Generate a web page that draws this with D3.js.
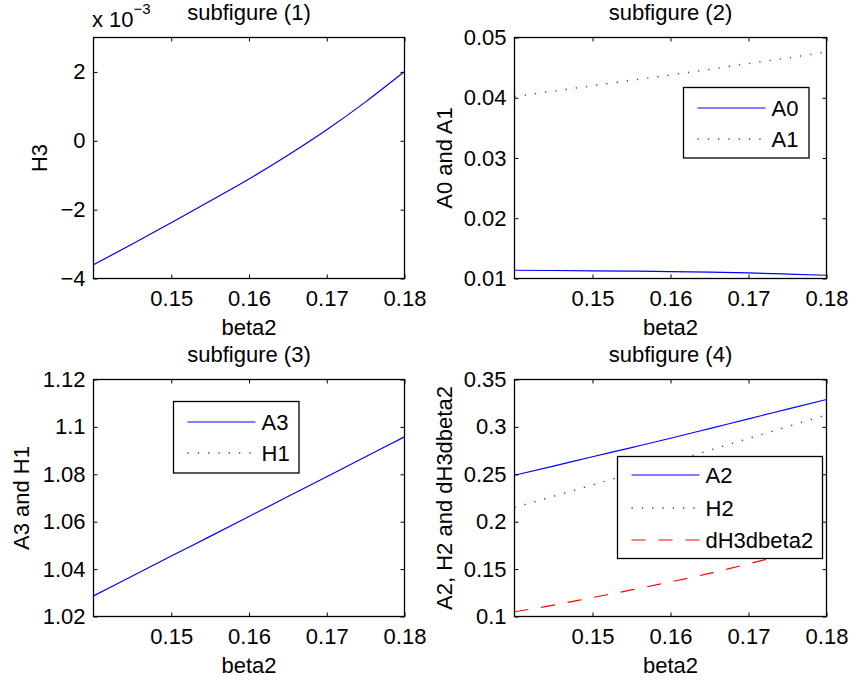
<!DOCTYPE html>
<html>
<head>
<meta charset="utf-8">
<script src="https://cdn.jsdelivr.net/npm/d3@7"></script>
<style>
  html, body { margin: 0; padding: 0; background: #fff; }
  svg { display: block; }
  text { font-family: "Liberation Sans", Arial, Helvetica, sans-serif; fill: #000; }
</style>
</head>
<body>
<svg id="fig" width="851" height="682"></svg>
<script>
// beta2 sample points shared by every panel
const beta2 = [0.140, 0.145, 0.150, 0.155, 0.160, 0.165, 0.170, 0.175, 0.180];
const xTicks = [0.15, 0.16, 0.17, 0.18];

// subfigure (1)
const H3 = [-3.60e-3, -3.00e-3, -2.38e-3, -1.75e-3, -1.11e-3, -0.42e-3, 0.32e-3, 1.13e-3, 2.01e-3];
const yTicks1 = [-0.004, -0.002, 0, 0.002];

// subfigure (2)
const A0 = [0.01137, 0.01133, 0.01128, 0.01122, 0.01115, 0.01105, 0.01092, 0.01074, 0.01054];
const A1 = [0.0402, 0.0411, 0.0420, 0.0429, 0.0438, 0.0447, 0.0457, 0.0466, 0.0476];
const yTicks2 = [0.01, 0.02, 0.03, 0.04, 0.05];

// subfigure (3)
const A3 = [1.0287, 1.0371, 1.0455, 1.0538, 1.0622, 1.0706, 1.0790, 1.0874, 1.0958];
const H1 = [null, null, null, null, null, null, null, null, null];
const yTicks3 = [1.02, 1.04, 1.06, 1.08, 1.10, 1.12];

// subfigure (4)
const A2 = [0.2490, 0.2587, 0.2685, 0.2782, 0.2880, 0.2982, 0.3085, 0.3187, 0.3289];
const H2 = [0.2150, 0.2268, 0.2388, 0.2508, 0.2630, 0.2753, 0.2878, 0.3002, 0.3127];
const dH3dbeta2 = [0.1050, 0.1120, 0.1200, 0.1280, 0.1365, 0.1455, 0.1555, 0.1660, 0.1770];
const yTicks4 = [0.10, 0.15, 0.20, 0.25, 0.30, 0.35];

const svg = d3.select("#fig");
const FONT = 22;
const TICK = 4;

const styles = {
  solidBlue: { color: "#0000ff", dash: null, width: 1.2 },
  dotGreen:  { color: "#008000", dash: "1.3 9", width: 1.4 },
  dashRed:   { color: "#ff0000", dash: "14 13", width: 1.2 }
};

function fmtPlain(v) {
  return d3.format("~g")(+v.toFixed(6)).replace("-", "\u2212");
}

let clipId = 0;
function panel(cfg) {
  const { left, right, top, bottom } = cfg.box;
  const x = d3.scaleLinear().domain([0.14, 0.18]).range([left, right]);
  const y = d3.scaleLinear().domain(cfg.yDomain).range([bottom, top]);
  const g = svg.append("g");

  // data lines, clipped to the axes box
  const id = "clip" + (clipId++);
  svg.append("clipPath").attr("id", id)
    .append("rect").attr("x", left).attr("y", top)
    .attr("width", right - left).attr("height", bottom - top);

  const lines = g.append("g").attr("clip-path", `url(#${id})`);
  cfg.series.forEach(s => {
    const pts = beta2.map((b, i) => [b, s.values[i]]).filter(d => d[1] != null);
    if (!pts.length) return;
    const line = d3.line().x(d => x(d[0])).y(d => y(d[1])).curve(d3.curveMonotoneX);
    lines.append("path")
      .attr("d", line(pts))
      .attr("fill", "none")
      .attr("stroke", s.style.color)
      .attr("stroke-width", s.style.width)
      .attr("stroke-dasharray", s.style.dash);
  });

  // axes: inward ticks on all four sides, labels bottom and left only
  const fmt = cfg.yFormat || fmtPlain;
  const axB = d3.axisBottom(x).tickValues(xTicks).tickSizeInner(-TICK).tickSizeOuter(0)
    .tickFormat(d => d3.format(".2f")(d)).tickPadding(12);
  const axT = d3.axisTop(x).tickValues(xTicks).tickSizeInner(-TICK).tickSizeOuter(0).tickFormat("");
  const axL = d3.axisLeft(y).tickValues(cfg.yTicks).tickSizeInner(-TICK).tickSizeOuter(0)
    .tickFormat(fmt).tickPadding(8);
  const axR = d3.axisRight(y).tickValues(cfg.yTicks).tickSizeInner(-TICK).tickSizeOuter(0).tickFormat("");

  const axes = [
    g.append("g").attr("transform", `translate(0,${bottom})`).call(axB),
    g.append("g").attr("transform", `translate(0,${top})`).call(axT),
    g.append("g").attr("transform", `translate(${left},0)`).call(axL),
    g.append("g").attr("transform", `translate(${right},0)`).call(axR)
  ];
  axes.forEach(a => {
    a.select(".domain").remove();
    a.selectAll(".tick line").attr("stroke", "#000").attr("stroke-width", 1);
    a.selectAll("text").attr("font-size", FONT)
      .attr("font-family", '"Liberation Sans", Arial, sans-serif').attr("fill", "#000");
  });

  g.append("rect").attr("x", left).attr("y", top)
    .attr("width", right - left).attr("height", bottom - top)
    .attr("fill", "none").attr("stroke", "#000").attr("stroke-width", 1.3);

  // title and axis labels
  g.append("text").attr("x", (left + right) / 2).attr("y", top - 18)
    .attr("text-anchor", "middle").attr("font-size", FONT).text(cfg.title);
  g.append("text").attr("x", (left + right) / 2).attr("y", bottom + 56)
    .attr("text-anchor", "middle").attr("font-size", FONT).text("beta2");
  g.append("text")
    .attr("transform", `translate(${cfg.yLabelX},${(top + bottom) / 2}) rotate(-90)`)
    .attr("text-anchor", "middle").attr("font-size", FONT).text(cfg.yLabel);

  // legend box drawn over the lines
  if (cfg.legend) {
    const L = cfg.legend;
    const lg = g.append("g");
    lg.append("rect").attr("x", L.x).attr("y", L.y).attr("width", L.w).attr("height", L.h)
      .attr("fill", "#fff").attr("stroke", "#000").attr("stroke-width", 1.3);
    cfg.series.forEach((s, i) => {
      const ry = Math.round(L.y + L.firstRow + i * L.rowStep);
      lg.append("line").attr("x1", L.x + 14).attr("x2", L.x + 82).attr("y1", ry).attr("y2", ry)
        .attr("stroke", s.style.color)
        .attr("stroke-width", s.style.width)
        .attr("stroke-dasharray", s.style.dash);
      lg.append("text").attr("x", L.x + 88).attr("y", ry).attr("dy", "0.36em")
        .attr("font-size", FONT).text(s.name);
    });
  }
  return { x, y, g };
}

// subfigure (1)
const p1 = panel({
  box: { left: 93.5, right: 404.5, top: 37.5, bottom: 278.5 },
  yDomain: [-0.004, 0.003], yTicks: yTicks1,
  yFormat: d => fmtPlain(d * 1000),
  title: "subfigure (1)", yLabel: "H3", yLabelX: 46.5,
  series: [{ name: "H3", values: H3, style: styles.solidBlue }]
});
// exponent note above the axis
const expo = p1.g.append("text").attr("x", 92).attr("y", 26.5).attr("font-size", FONT);
expo.append("tspan").text("x 10");
expo.append("tspan").attr("font-size", 15).attr("dy", -13).text("\u22123");

// subfigure (2)
panel({
  box: { left: 514.5, right: 826.5, top: 37.5, bottom: 278.5 },
  yDomain: [0.01, 0.05], yTicks: yTicks2,
  title: "subfigure (2)", yLabel: "A0 and A1", yLabelX: 452,
  series: [
    { name: "A0", values: A0, style: styles.solidBlue },
    { name: "A1", values: A1, style: styles.dotGreen }
  ],
  legend: { x: 683.5, y: 87.5, w: 125.5, h: 70.5, firstRow: 20, rowStep: 31 }
});

// subfigure (3)
panel({
  box: { left: 93.5, right: 404.5, top: 379.5, bottom: 616.5 },
  yDomain: [1.02, 1.12], yTicks: yTicks3,
  title: "subfigure (3)", yLabel: "A3 and H1", yLabelX: 28.5,
  series: [
    { name: "A3", values: A3, style: styles.solidBlue },
    { name: "H1", values: H1, style: styles.dotGreen }
  ],
  legend: { x: 173.5, y: 401.5, w: 125.5, h: 71.5, firstRow: 20, rowStep: 31.5 }
});

// subfigure (4)
panel({
  box: { left: 514.5, right: 826.5, top: 379.5, bottom: 616.5 },
  yDomain: [0.10, 0.35], yTicks: yTicks4,
  title: "subfigure (4)", yLabel: "A2, H2 and dH3dbeta2", yLabelX: 452,
  series: [
    { name: "A2", values: A2, style: styles.solidBlue },
    { name: "H2", values: H2, style: styles.dotGreen },
    { name: "dH3dbeta2", values: dH3dbeta2, style: styles.dashRed }
  ],
  legend: { x: 617.5, y: 456.5, w: 205, h: 102, firstRow: 18.5, rowStep: 32.5 }
});
</script>
</body>
</html>
